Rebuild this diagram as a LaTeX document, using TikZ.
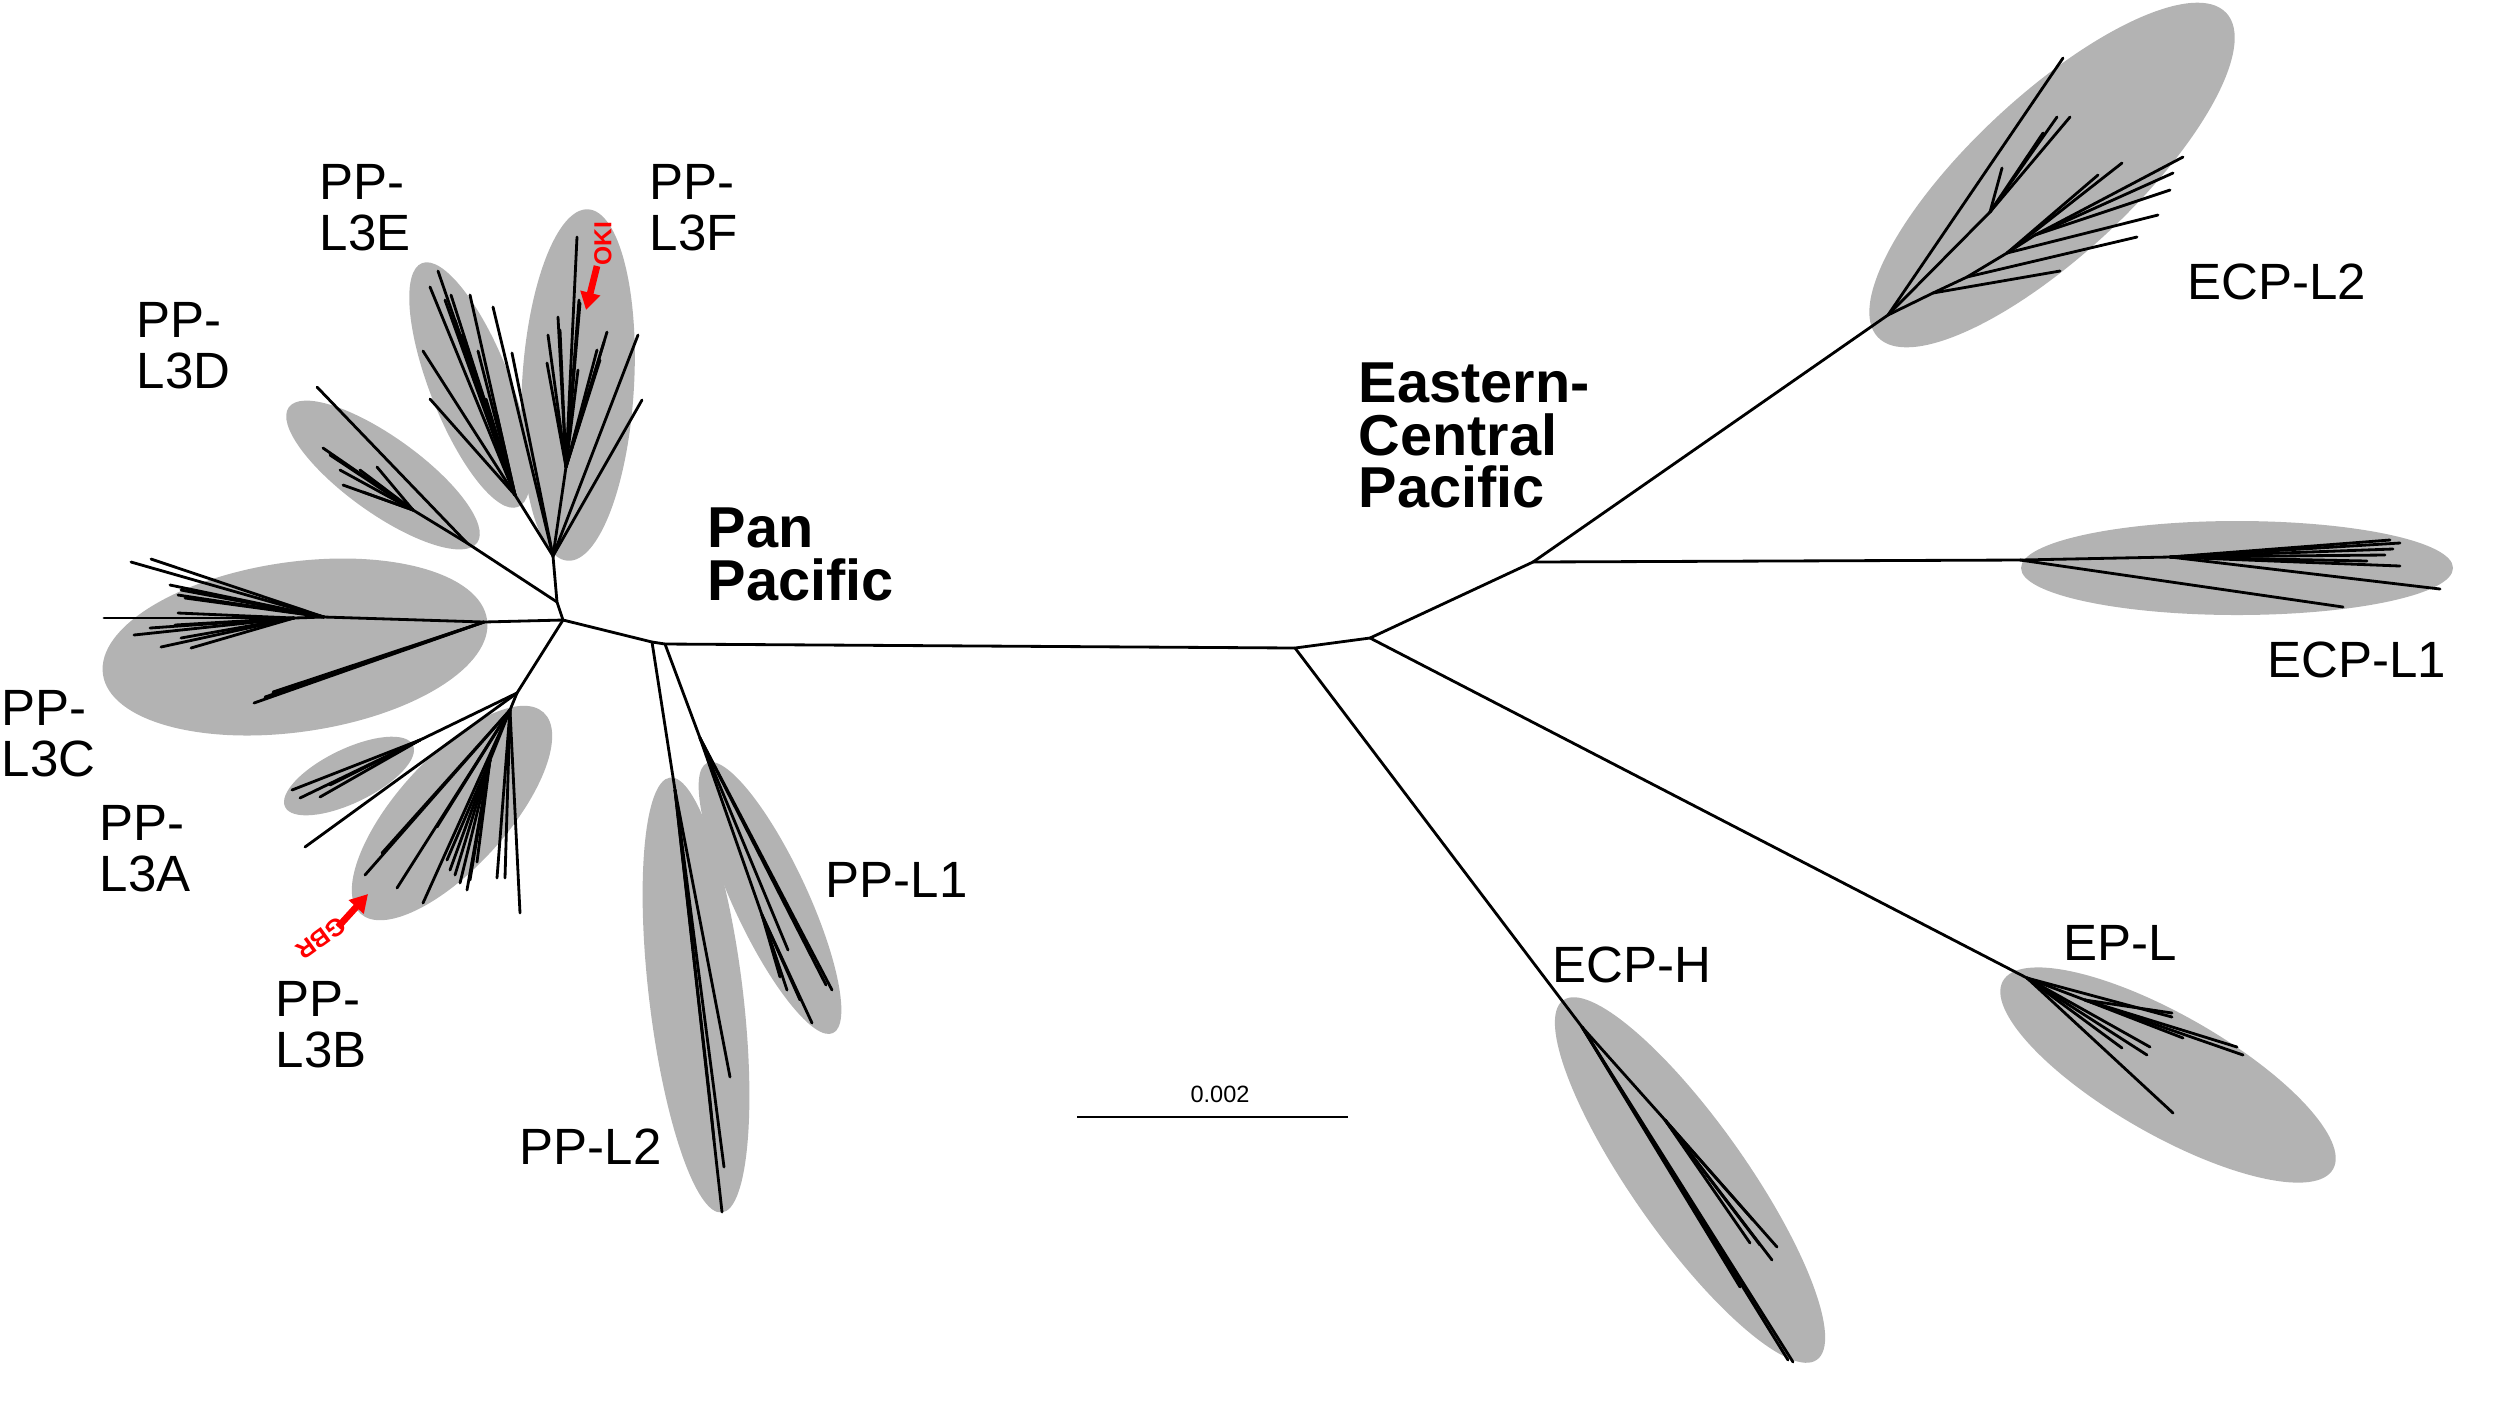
\documentclass[tikz,border=0pt]{standalone}
\usepackage{fontspec}
\setmainfont{Liberation Sans}
\usetikzlibrary{arrows.meta}
\definecolor{ellgray}{RGB}{179,179,179}
\definecolor{arrred}{RGB}{255,0,0}
\begin{document}
\begin{tikzpicture}[x=0.01cm,y=-0.01cm,
  br/.style={line width=0.8pt, line cap=round, line join=round},
  clade/.style={fill=ellgray},
  lab/.style={font=\fontsize{14.5}{14.3}\selectfont, align=left, inner sep=0pt, anchor=north west},
  grp/.style={font=\fontsize{16.4}{15}\selectfont\bfseries, align=left, inner sep=0pt, anchor=north west},
  redarrow/.style={draw=arrred, line width=1.9pt, -{Triangle[width=5.5pt,length=5pt]}},
  redlab/.style={text=arrred, font=\fontsize{7}{8}\selectfont\bfseries, inner sep=0pt}]

\useasboundingbox (0,0) rectangle (2500,1417);

% ---- clade ellipses ----
\fill[clade, rotate around={86.7:(578,385)}] (578,385) ellipse (176 and 56);   % L3F
\fill[clade, rotate around={111.5:(470,385)}] (470,385) ellipse (131 and 40);  % L3E
\fill[clade, rotate around={-35.7:(383,475)}] (383,475) ellipse (116 and 38);  % L3D
\fill[clade, rotate around={8.1:(295,647)}] (295,647) ellipse (194 and 85);    % L3C
\fill[clade, rotate around={25.8:(349,776)}] (349,776) ellipse (71 and 27);    % L3A
\fill[clade, rotate around={47.7:(452,813)}] (452,813) ellipse (136 and 55);   % L3B
\fill[clade, rotate around={96.8:(696,995)}] (696,995) ellipse (219 and 47);   % L2
\fill[clade, rotate around={115:(770,898)}] (770,898) ellipse (149 and 37);    % L1
\fill[clade, rotate around={-54.8:(1690,1180)}] (1690,1180) ellipse (220 and 57); % ECP-H
\fill[clade, rotate around={-29.7:(2168,1075)}] (2168,1075) ellipse (190 and 60); % EP-L
\fill[clade] (2237,568) ellipse (216 and 47);                                  % ECP-L1
\fill[clade, rotate around={42.9:(2052,175)}] (2052,175) ellipse (238 and 80); % ECP-L2

% ---- internal nodes ----
\coordinate (H1) at (563,620);
\coordinate (N2) at (652,642);
\coordinate (N3) at (665,644);
\coordinate (N4) at (1295,648);
\coordinate (N5) at (1370,638);
\coordinate (N6) at (1533,562);
\coordinate (ND0) at (557,602);
\coordinate (NEF) at (553,556);
\coordinate (RE) at (515,495);
\coordinate (RF) at (566,467);
\coordinate (RD) at (467,543);
\coordinate (ID) at (413,510);
\coordinate (NC) at (484,622);
\coordinate (NC2) at (324,617);
\coordinate (NC3) at (294,618);
\coordinate (NAB) at (517,693);
\coordinate (RA) at (420,740);
\coordinate (RB) at (510,710);
\coordinate (IB) at (490,760);
\coordinate (RL2) at (675,790);
\coordinate (IL2) at (710,1100);
\coordinate (RL1) at (700,738);
\coordinate (IL1) at (762,915);
\coordinate (RH) at (1582,1027);
\coordinate (IH) at (1665,1120);
\coordinate (REP) at (2027,978);
\coordinate (IEP) at (2085,1000);
\coordinate (RE1) at (2020,560);
\coordinate (IE1) at (2170,557);
\coordinate (RE2) at (1888,315);
\coordinate (E2a) at (1933,293);
\coordinate (E2b) at (1967,277);
\coordinate (E2c) at (2007,253);
\coordinate (E2d) at (2035,235);
\coordinate (E2e) at (1990,212);

% ---- backbone ----
\draw[br] (H1) -- (N2) -- (N3) -- (N4) -- (N5) -- (N6);
\draw[br] (H1) -- (ND0) -- (NEF);
\draw[br] (ND0) -- (RD);
\draw[br] (H1) -- (NC) -- (NC2) -- (NC3);
\draw[br] (H1) -- (NAB);
\draw[br] (N2) -- (RL2);
\draw[br] (N3) -- (RL1);
\draw[br] (N4) -- (RH);
\draw[br] (N5) -- (REP);
\draw[br] (N6) -- (RE1) -- (IE1);
\draw[br] (N6) -- (RE2);

% ---- PP-L3F ----
\draw[br] (NEF) -- (RF);
\foreach \p in {(577,237),(580,303),(578,370),(548,335),(547,363),(560,330),(558,317),(597,350),(600,360),(607,332),(604,342),(579,300)}
  \draw[br] (RF) -- \p;
\foreach \p in {(638,335),(642,400),(493,307),(512,353)}
  \draw[br] (NEF) -- \p;
% ---- PP-L3E ----
\draw[br] (NEF) -- (RE);
\foreach \p in {(430,287),(438,271),(451,295),(470,295),(462,335),(478,351),(423,351),(430,399),(486,399),(497,415),(455,320),(445,300)}
  \draw[br] (RE) -- \p;
% ---- PP-L3D ----
\draw[br] (RD) -- (317,387);
\draw[br] (RD) -- (ID);
\foreach \p in {(323,448),(343,485),(377,467),(360,470),(340,470),(363,492),(330,455)}
  \draw[br] (ID) -- \p;
% ---- PP-L3C ----
\foreach \p in {(254,703),(273,692),(265,697)}
  \draw[br] (NC) -- \p;
\foreach \p in {(131,562),(151,559),(181,590),(178,595),(170,585),(185,598)}
  \draw[br] (NC2) -- \p;
\foreach \p in {(104,618),(178,613),(134,635),(181,638),(161,647),(191,648),(150,628),(175,625)}
  \draw[br] (NC3) -- \p;
% ---- PP-L3A / L3B ----
\draw[br] (NAB) -- (RA);
\foreach \p in {(292,790),(320,797),(330,785),(300,798)}
  \draw[br] (RA) -- \p;
\draw[br] (NAB) -- (305,847);
\draw[br] (NAB) -- (RB) -- (IB);
\foreach \p in {(365,875),(382,853),(397,888),(423,903),(437,827),(497,878),(505,878),(520,913)}
  \draw[br] (RB) -- \p;
\foreach \p in {(450,870),(460,883),(467,890),(477,862),(455,875),(447,860),(470,880)}
  \draw[br] (IB) -- \p;
% ---- PP-L2 ----
\foreach \p in {(722,1212),(724,1167),(730,1077)}
  \draw[br] (RL2) -- \p;
\draw[br] (RL2) -- (IL2) -- (714,1140);
% ---- PP-L1 ----
\foreach \p in {(832,990),(826,985),(788,950)}
  \draw[br] (RL1) -- \p;
\draw[br] (RL1) -- (IL1);
\foreach \p in {(787,990),(780,977),(800,1000),(812,1023)}
  \draw[br] (IL1) -- \p;
% ---- ECP-H ----
\foreach \p in {(1793,1362),(1788,1360),(1740,1287)}
  \draw[br] (RH) -- \p;
\draw[br] (RH) -- (IH);
\foreach \p in {(1777,1247),(1753,1220),(1772,1260),(1750,1243),(1760,1245)}
  \draw[br] (IH) -- \p;
% ---- EP-L ----
\draw[br] (REP) -- (IEP);
\foreach \p in {(2172,1013),(2237,1047),(2243,1055),(2183,1038)}
  \draw[br] (IEP) -- \p;
\foreach \p in {(2172,1017),(2150,1047),(2147,1055),(2122,1048),(2173,1113)}
  \draw[br] (REP) -- \p;
% ---- ECP-L1 ----
\draw[br] (RE1) -- (2343,607);
\foreach \p in {(2390,540),(2400,543),(2393,549),(2385,555),(2367,561),(2400,566),(2440,589)}
  \draw[br] (IE1) -- \p;
% ---- ECP-L2 ----
\draw[br] (RE2) -- (E2a) -- (E2b) -- (E2c) -- (E2d);
\draw[br] (E2a) -- (2060,271);
\draw[br] (E2b) -- (2137,237);
\foreach \p in {(2158,215),(2098,175),(2122,163)}
  \draw[br] (E2c) -- \p;
\foreach \p in {(2170,190),(2173,173),(2183,157)}
  \draw[br] (E2d) -- \p;
\draw[br] (RE2) -- (2063,58);
\draw[br] (RE2) -- (E2e);
\foreach \p in {(2002,168),(2043,133),(2057,117),(2070,117)}
  \draw[br] (E2e) -- \p;

% ---- scale bar ----
\coordinate (SB1) at (1077,1117);
\coordinate (SB2) at (1348,1117);
\draw[line width=0.6pt] (SB1) -- (SB2);
\node[font=\fontsize{6.7}{8}\selectfont, inner sep=0pt, anchor=base] (sbl) at (1220,1102) {0.002};

% ---- red markers ----
\coordinate (OKIt) at (597,266);
\coordinate (OKIh) at (586,310);
\draw[redarrow] (OKIt) -- (OKIh);
\node[redlab, rotate=90] (oki) at (603,244) {OKI};
\coordinate (GBRt) at (338,927);
\coordinate (GBRh) at (368,894);
\draw[redarrow] (GBRt) -- (GBRh);
\node[redlab, rotate=-144] (gbr) at (321,938) {GBR};

% ---- clade labels ----
\node[lab] (l3e) at (319,164) {PP-\\L3E};
\node[lab] (l3f) at (649,164) {PP-\\L3F};
\node[lab] (l3d) at (136,302) {PP-\\L3D};
\node[lab] (l3c) at (1,690) {PP-\\L3C};
\node[lab] (l3a) at (99,805) {PP-\\L3A};
\node[lab] (l3b) at (275,981) {PP-\\L3B};
\node[lab] (l1) at (825,862) {PP-L1};
\node[lab] (l2) at (519,1128) {PP-L2};
\node[lab] (ecph) at (1552,946) {ECP-H};
\node[lab] (epl) at (2063,925) {EP-L};
\node[lab] (ecpl1) at (2267,641) {ECP-L1};
\node[lab] (ecpl2) at (2187,263) {ECP-L2};
\node[grp] (pan) at (707,507) {Pan\\Pacific};
\node[grp] (ecp) at (1358,362) {Eastern-\\Central\\Pacific};
\end{tikzpicture}
\end{document}
